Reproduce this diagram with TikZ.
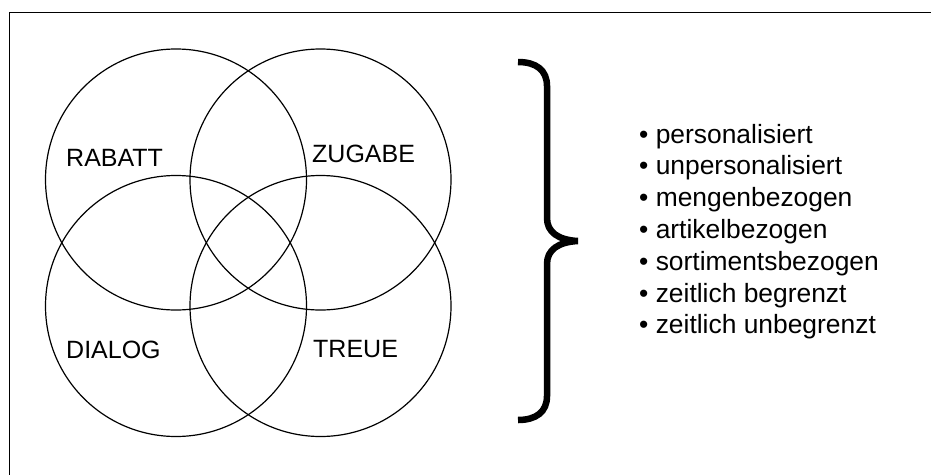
\documentclass[tikz,border=0pt]{standalone}
\usepackage{fontspec}
\setmainfont{Liberation Sans}
\begin{document}
\begin{tikzpicture}[x=1pt,y=-1pt,
  venn/.style={circle,draw=black,line width=1.2pt,minimum size=261pt,inner sep=0pt},
  lbl/.style={anchor=base west,inner sep=0pt,font=\fontsize{25}{30}\selectfont},
  item/.style={anchor=base west,inner sep=0pt,font=\fontsize{26.4}{31}\selectfont},
  frameline/.style={line width=1.3pt,line cap=rect}]
\useasboundingbox (0,0) rectangle (931,474);
% frame (only left and top edges visible)
\coordinate (fb) at (9.5,480);
\coordinate (fc) at (9.5,12.5);
\coordinate (fr) at (940,12.5);
\draw[frameline] (fb) -- (fc) -- (fr);
% circles
\node[venn] (c1) at (176,179.5) {};
\node[venn] (c2) at (320.5,179.5) {};
\node[venn] (c3) at (176,306) {};
\node[venn] (c4) at (320.5,306) {};
% labels
\node[lbl] (rabatt) at (66,166) {RABATT};
\node[lbl] (zugabe) at (312,162.5) {ZUGABE};
\node[lbl] (dialog) at (66,358.5) {DIALOG};
\node[lbl] (treue) at (313,357.5) {TREUE};
% brace
\draw[line width=6.5pt] (518,62) .. controls (536,62) and (547,70) .. (547,86)
  -- (547,218) .. controls (547,232) and (558,240) .. (578,241)
  .. controls (558,242) and (547,250) .. (547,264)
  -- (547,396) .. controls (547,412) and (536,420) .. (518,420);
% list
\node[item] (l1) at (639,143) {• personalisiert};
\node[item] (l2) at (639,174.8) {• unpersonalisiert};
\node[item] (l3) at (639,206.6) {• mengenbezogen};
\node[item] (l4) at (639,238.4) {• artikelbezogen};
\node[item] (l5) at (639,270.2) {• sortimentsbezogen};
\node[item] (l6) at (639,302) {• zeitlich begrenzt};
\node[item] (l7) at (639,333.8) {• zeitlich unbegrenzt};
\end{tikzpicture}
\end{document}
